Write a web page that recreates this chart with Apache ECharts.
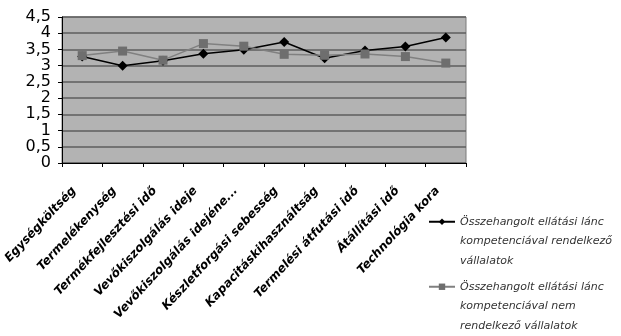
<!DOCTYPE html>
<html><head><meta charset="utf-8">
<script src="https://cdn.jsdelivr.net/npm/echarts@6/dist/echarts.min.js"></script>
<style>html,body{margin:0;padding:0;background:#fff}#c{width:621px;height:336px}</style>
</head><body><div id="c"></div>
<script>
const categories = ["Egységköltség","Termelékenység","Termékfejlesztési idő","Vevőkiszolgálás ideje","Vevőkiszolgálás idejéne...","Készletforgási sebesség","Kapacitáskihasználtság","Termelési átfutási idő","Átállítási idő","Technológia kora"];
const seriesA = [3.28, 3.0, 3.15, 3.37, 3.49, 3.73, 3.23, 3.47, 3.59, 3.87];
const seriesB = [3.31, 3.45, 3.17, 3.68, 3.6, 3.35, 3.32, 3.36, 3.28, 3.08];
const nameA = "Összehangolt ellátási lánc\nkompetenciával rendelkező\nvállalatok";
const nameB = "Összehangolt ellátási lánc\nkompetenciával nem\nrendelkező vállalatok";
const legendText = {fontFamily:'DejaVu Sans',fontStyle:'italic',fontSize:11,color:'#333',lineHeight:19.5};
const chart = echarts.init(document.getElementById('c'));
chart.setOption({
  animation:false,
  grid:{left:62,right:155,top:17,bottom:173,show:true,backgroundColor:'#b3b3b3',borderColor:'#7a7a7a',borderWidth:1},
  legend:[
    {orient:'vertical',left:423,top:168,itemWidth:26,itemHeight:8,textStyle:legendText,
      formatter:n=>'\n\n'+n,data:[{name:nameA}]},
    {orient:'vertical',left:423,top:233,itemWidth:26,itemHeight:8,textStyle:legendText,
      formatter:n=>'\n\n'+n,data:[{name:nameB}]}
  ],
  xAxis:{type:'category',data:categories,boundaryGap:true,
    axisLine:{lineStyle:{color:'#000',width:1}},
    axisTick:{show:true,length:4,lineStyle:{color:'#000'}},
    axisLabel:{rotate:47,interval:0,margin:17,padding:[0,12,0,0],fontFamily:'DejaVu Sans',fontWeight:'bold',fontStyle:'italic',fontSize:12,color:'#000'}},
  yAxis:{type:'value',min:0,max:4.5,interval:0.5,
    axisLine:{show:true,lineStyle:{color:'#000'}},
    axisTick:{show:true,length:4,lineStyle:{color:'#000'}},
    splitLine:{lineStyle:{color:'#5e5e5e',width:1.5}},
    axisLabel:{fontFamily:'DejaVu Sans',fontSize:16,color:'#000',margin:11,
      formatter:v=>String(v).replace('.',',')}},
  series:[
    {name:nameA,type:'line',data:seriesA,symbol:'diamond',symbolSize:10,
      lineStyle:{color:'#000',width:1.5},itemStyle:{color:'#000'}},
    {name:nameB,type:'line',data:seriesB,symbol:'rect',symbolSize:9,
      lineStyle:{color:'#808080',width:1.5},itemStyle:{color:'#6e6e6e'}}
  ]
});
</script></body></html>
